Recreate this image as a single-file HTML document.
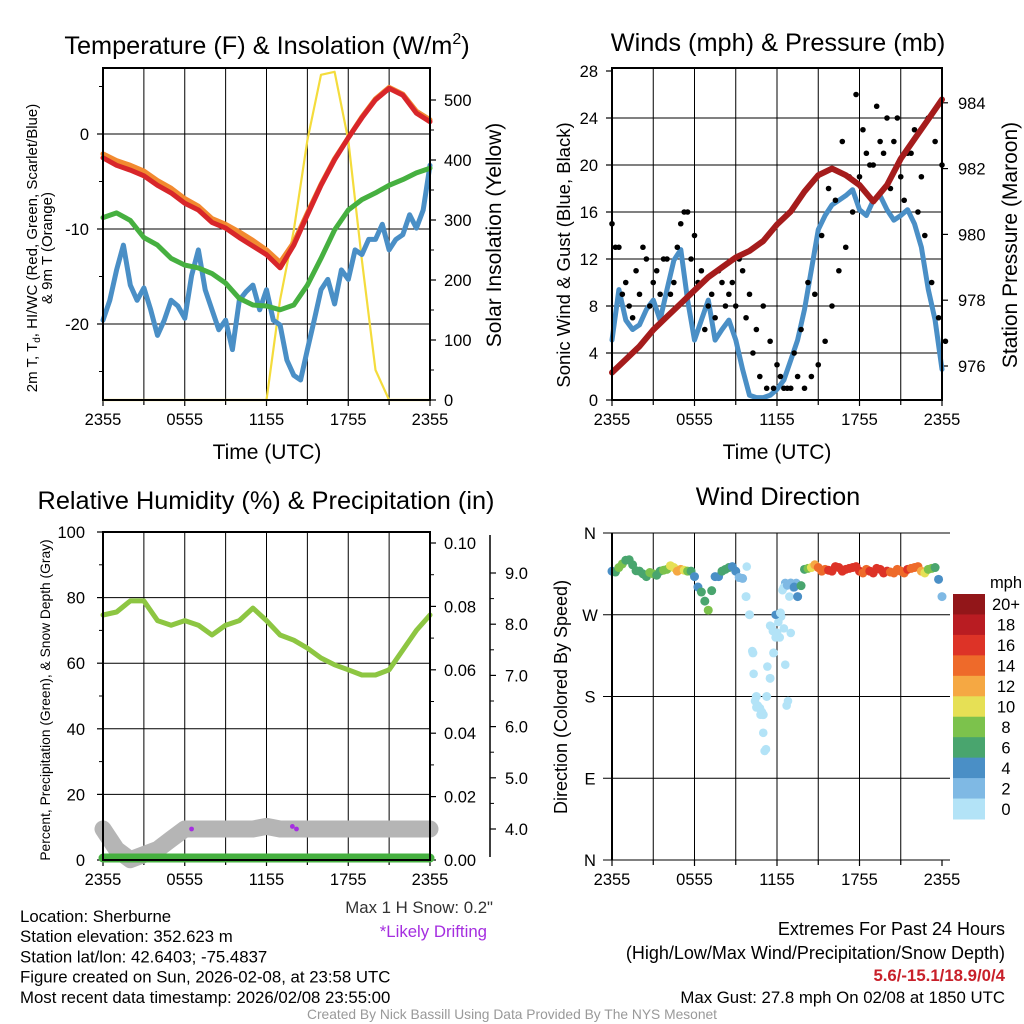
<!DOCTYPE html>
<html><head><meta charset="utf-8"><style>
html,body{margin:0;padding:0;background:#fff;}
svg{display:block;font-family:"Liberation Sans",Arial,sans-serif;}
</style></head><body>
<svg id="fig" width="1024" height="1024" viewBox="0 0 1024 1024">
<rect width="1024" height="1024" fill="#fff"/>
<g id="layer"></g>
</svg>
<script>
// ---------- DATA ----------
const timeLabels = ["2355","0555","1155","1755","2355"];
const tempTicks = [0,-10,-20];
const solarTicks = [0,100,200,300,400,500];
const windTicks = [0,4,8,12,16,20,24,28];
const presTicks = [976,978,980,982,984];
const rhTicks = [0,20,40,60,80,100];
const precipTicks = ["0.00","0.02","0.04","0.06","0.08","0.10"];
const snowTicks = ["4.0","5.0","6.0","7.0","8.0","9.0"];
const dirTicks = ["N","W","S","E","N"];
const speedBins = ["0","2","4","6","8","10","12","14","16","18","20+"];

// hourly temperature (F), t = 0..24
const tempT = [-2.5,-3.3,-3.8,-4.4,-5.4,-6.2,-7.3,-8,-9.3,-9.9,-10.9,-11.8,-12.7,-14.1,-11.7,-8.5,-5.4,-2.7,-0.4,1.7,3.6,4.8,4.1,2.2,1.3];
const temp9m = [-2.1,-2.8,-3.3,-3.9,-4.9,-5.7,-6.8,-7.6,-8.9,-9.5,-10.3,-11.2,-12.2,-13.5,-11.4,-8.3,-5.3,-2.6,-0.4,1.8,3.7,4.9,4.2,2.4,1.5];
const dewT = [-8.8,-8.3,-9.1,-10.9,-11.7,-13.1,-13.8,-14.1,-14.7,-15.7,-17.3,-18,-18.1,-18.5,-18,-15.9,-13.1,-10.1,-8,-6.9,-6.2,-5.4,-4.8,-4.1,-3.6];
// half-hourly wind chill (F)
const windChill = [-19.6,-17.5,-14.3,-11.7,-15.9,-17.5,-16.2,-18.5,-21.2,-19.6,-17.5,-18.1,-19.4,-14.9,-12.2,-16.4,-18.5,-20.6,-19.6,-22.7,-17.5,-16.6,-15.9,-18.5,-16.4,-19.6,-20.1,-23.8,-25.4,-25.9,-22.7,-19.6,-16.4,-15.3,-17.9,-14.3,-15.3,-12.2,-12.7,-11.1,-11.1,-9.5,-12.2,-11.1,-10.6,-8.5,-9.9,-8.0,-3.3];
// solar insolation (W/m2), hourly
const solar = [0,0,0,0,0,0,0,0,0,0,0,0,0,167,283,433,542,547,433,233,50,0,0,0,0];
// half-hourly sonic wind (mph)
const wind = [5.1,9.4,6.8,6,6.4,7.7,8.5,6.8,9.4,11.9,12.8,8.5,5.1,6.8,8.5,5.1,6,6.8,5.1,2.6,0.4,0.2,0.2,0.4,0.9,1.7,3.4,5.1,7.7,11.1,14.5,15.7,16.6,17,17.4,17.9,16.2,15.7,17,17.4,16.2,15.3,15.7,16.2,15,13,9.4,6.8,2.6];
const gust = [15,13,10,7,9,12,10,9,12,10,15,16,14,11,8,7,10,9,8,11,9,6,8,5,3,1,1,2,1,2,3,5,8,11,13,16,19,21,20,22,24,22,19,21,23,19,24,22,20];
const gust2 = [13,9,8,11,13,8,11,12,9,13,16,12,10,6,9,11,8,10,12,7,4,2,1,1,2,1,4,6,10,9,14,18,17,22,19,26,23,20,25,21,18,24,17,21,16,14,10,7,5];
// hourly station pressure (mb)
const pressure = [975.8,976.2,976.6,977.1,977.5,977.9,978.3,978.7,979.0,979.3,979.5,979.8,980.3,980.7,981.3,981.8,982.0,981.8,981.5,981.0,981.5,982.3,982.9,983.5,984.1];
// hourly RH (%)
const rh = [74.7,75.6,79,79,73,71.6,73,71.6,68.6,71.6,73,76.8,73,68.6,67,64.6,61.6,59.5,58,56.4,56.4,58,64,70,74.7];
const precip = [0,0,0,0,0,0,0,0,0,0,0,0,0,0,0,0,0,0,0,0,0,0,0,0,0];
const snow = [4.0,3.6,3.4,3.5,3.6,3.8,4.0,4.0,4.0,4.0,4.0,4.0,4.05,4.0,4.0,4.0,4.0,4.0,4.0,4.0,4.0,4.0,4.0,4.0,4.0];
const driftT = [6.5,13.9,14.2];
const driftSnow = [4.0,4.05,4.0];
// half-hourly wind direction (deg)
const windDir = [318,322,330,325,318,312,315,318,320,322,320,318,312,295,275,312,318,322,318,310,270,180,160,200,250,300,305,290,320,322,322,320,318,322,320,322,318,320,316,320,318,316,318,320,322,318,320,322,290];
const extraDirT = [9.8,10.2,10.3,10.4,10.5,10.6,10.8,10.9,11.0,11.1,11.2,11.3,11.5,11.6,11.7,11.9,12.1,12.3,12.5,12.6,12.7,12.8,12.4,12.6,12.9,13.2,13.4,13.0,12.2,11.9];
const extraDir = [323,230,205,175,168,170,160,163,140,120,122,213,258,257,252,245,262,268,255,215,170,175,297,305,290,300,305,250,245,270];
const extraSpd = [1,0.5,0.5,0.5,0.5,0.5,0.5,0.5,0.5,0.5,0.5,0.5,0.5,1,0.5,0.5,1,0.5,0.5,1,0.5,0.5,1,2.5,1,2,3,1,0.5,4];

// ---------- HELPERS ----------
const NS="http://www.w3.org/2000/svg";
const layer=document.getElementById('layer');
function el(tag,attrs,parent){const e=document.createElementNS(NS,tag);for(const k in attrs)e.setAttribute(k,attrs[k]);(parent||layer).appendChild(e);return e;}
function txt(x,y,s,size,anchor,parent,extra){const e=el('text',Object.assign({x:x,y:y,'font-size':size,'text-anchor':anchor||'middle',fill:'#000'},extra||{}),parent);e.textContent=s;return e;}
const spdColors=["#b3e3f7","#7fb9e4","#4a8fc6","#49a56e","#7cc24c","#e6e055","#f5a843","#ee6a2a","#dd3327","#b91c22","#921619"];
function spdColor(v){let i=Math.floor(v/2);if(i<0)i=0;if(i>10)i=10;return spdColors[i];}
const TICK=16.5, TITLE=25.3, AXT=21;

function panelFrame(g,L,T,R,B){
  for(let i=1;i<8;i++){const x=L+(R-L)*i/8;
    const gl=el('line',{x1:x,y1:T,x2:x,y2:B,stroke:'#000','stroke-width':1},g);
    
    }
  for(let i=0;i<=8;i++){const x=L+(R-L)*i/8;
    el('line',{x1:x,y1:B,x2:x,y2:B+(i%2==0?6:5),stroke:'#000','stroke-width':1.2},g);}
  timeLabels.forEach((s,i)=>{const t=txt(L+(R-L)*i/4,B+25,s,TICK,'middle',g);
    
    });
}
function border(g,L,T,R,B){const r=el('rect',{x:L,y:T,width:R-L,height:B-T,fill:'none',stroke:'#000','stroke-width':2},g);
  
  }
function poly(g,pts,color,w,name){const p=el('polyline',{points:pts.map(p=>p[0].toFixed(1)+','+p[1].toFixed(1)).join(' '),fill:'none',stroke:color,'stroke-width':w,'stroke-linejoin':'round','stroke-linecap':'round'},g);
  
  return p;}

// ---------- PANEL 1: Temperature ----------
(function(){
  const g=el('g',{});
  
  
  const L=103,T=68,R=430,B=400;
  const xS=t=>L+(R-L)*t/24;
  const yT=v=>134-v*9.5;
  const yS=v=>400-v*0.6;
  panelFrame(g,L,T,R,B);
  tempTicks.forEach(v=>{const y=yT(v);
    el('line',{x1:L,y1:y,x2:R,y2:y,stroke:'#000','stroke-width':1},g);
    el('line',{x1:L-6,y1:y,x2:L,y2:y,stroke:'#000','stroke-width':1.2},g);
    const t=txt(L-14,y+6,String(v),TICK,'end',g);
    
    });
  [5,-5,-15,-25].forEach(v=>el('line',{x1:L-4,y1:yT(v),x2:L,y2:yT(v),stroke:'#000','stroke-width':1},g));
  solarTicks.forEach(v=>{const y=yS(v);
    el('line',{x1:R,y1:y,x2:R+6,y2:y,stroke:'#000','stroke-width':1.2},g);
    const t=txt(R+14,y+6,String(v),TICK,'start',g);
    
    });
  [50,150,250,350,450].forEach(v=>el('line',{x1:R,y1:yS(v),x2:R+4,y2:yS(v),stroke:'#000','stroke-width':1},g));
  poly(g,solar.map((v,i)=>[xS(i),yS(v)]),'#f4dc3c',2.2,'solar-insolation-line');
  poly(g,windChill.map((v,i)=>[xS(i*0.5),yT(v)]),'#4a8fc6',5,'wind-chill-line');
  poly(g,dewT.map((v,i)=>[xS(i),yT(v)]),'#46b040',5,'dewpoint-line');
  poly(g,temp9m.map((v,i)=>[xS(i),yT(v)]),'#f28a30',5,'temp-9m-line');
  poly(g,tempT.map((v,i)=>[xS(i),yT(v)]),'#d8262a',5,'temp-2m-line');
  border(g,L,T,R,B);
  const ti=txt(267,54,'',TITLE,'middle',g);ti.innerHTML='Temperature (F) &amp; Insolation (W/m<tspan font-size="16" dy="-10">2</tspan><tspan dy="10">)</tspan>';
  
  
  const xl=txt(267,459,'Time (UTC)',AXT,'middle',g);
  
  
  const yl=el('text',{transform:'translate(37,248) rotate(-90)','font-size':15,'text-anchor':'middle'},g);
  yl.innerHTML='2m T, T<tspan font-size="10" dy="3">d</tspan><tspan dy="-3">, HI/WC (Red, Green, Scarlet/Blue)</tspan>';
  
  
  const yl2=el('text',{transform:'translate(52,248) rotate(-90)','font-size':15,'text-anchor':'middle'},g);yl2.textContent='& 9m T (Orange)';
  
  
  const yr=el('text',{transform:'translate(501,235) rotate(-90)','font-size':AXT,'text-anchor':'middle'},g);yr.textContent='Solar Insolation (Yellow)';
  
  
})();

// ---------- PANEL 2: Winds ----------
(function(){
  const g=el('g',{});
  
  
  const L=612,T=68,R=942,B=400;
  const xS=t=>L+(R-L)*t/24;
  const yW=v=>400-v*11.75;
  const yP=v=>366-(v-976)*32.9;
  panelFrame(g,L,T,R,B);
  windTicks.forEach(v=>{const y=yW(v);
    if(v>0&&v<28)el('line',{x1:L,y1:y,x2:R,y2:y,stroke:'#000','stroke-width':1},g);
    el('line',{x1:L-6,y1:y,x2:L,y2:y,stroke:'#000','stroke-width':1.2},g);
    const t=txt(L-14,y+6,String(v),TICK,'end',g);
    
    });
  presTicks.forEach(v=>{const y=yP(v);
    el('line',{x1:R,y1:y,x2:R+6,y2:y,stroke:'#000','stroke-width':1.2},g);
    const t=txt(R+16,y+6,String(v),TICK,'start',g);
    
    });
  poly(g,wind.map((v,i)=>[xS(i*0.5),yW(v)]),'#4a8fc6',5,'sonic-wind-line');
  gust.forEach((v,i)=>{const c=el('circle',{cx:xS(i*0.5),cy:yW(v),r:2.8,fill:'#000'},g);
    
    });
  gust2.forEach((v,i)=>{const c=el('circle',{cx:xS(i*0.5+0.25),cy:yW(v),r:2.8,fill:'#000'},g);
    
    });
  poly(g,pressure.map((v,i)=>[xS(i),yP(v)]),'#a51c1c',6,'pressure-line');
  border(g,L,T,R,B);
  const ti=txt(778,51,'Winds (mph) & Pressure (mb)',TITLE,'middle',g);
  
  
  const xl=txt(777,459,'Time (UTC)',AXT,'middle',g);
  
  
  const yl=el('text',{transform:'translate(570,255) rotate(-90)','font-size':18.5,'text-anchor':'middle'},g);yl.textContent='Sonic Wind & Gust (Blue, Black)';
  
  
  const yr=el('text',{transform:'translate(1017,245) rotate(-90)','font-size':AXT,'text-anchor':'middle'},g);yr.textContent='Station Pressure (Maroon)';
  
  
})();

// ---------- PANEL 3: RH ----------
(function(){
  const g=el('g',{});
  
  
  const L=103,T=532,R=430,B=860;
  const xS=t=>L+(R-L)*t/24;
  const yR=v=>860-v*3.28;
  const yPr=v=>860-v*3170;
  const ySn=v=>829-(v-4)*51.2;
  panelFrame(g,L,T,R,B);
  rhTicks.forEach(v=>{const y=yR(v);
    if(v>0&&v<100)el('line',{x1:L,y1:y,x2:R,y2:y,stroke:'#000','stroke-width':1},g);
    el('line',{x1:L-6,y1:y,x2:L,y2:y,stroke:'#000','stroke-width':1.2},g);
    const t=txt(L-18,y+6,String(v),TICK,'end',g);
    
    });
  [10,30,50,70,90].forEach(v=>el('line',{x1:L-4,y1:yR(v),x2:L,y2:yR(v),stroke:'#000','stroke-width':1},g));
  precipTicks.forEach(s=>{const y=yPr(parseFloat(s));
    el('line',{x1:R,y1:y,x2:R+6,y2:y,stroke:'#000','stroke-width':1.2},g);
    const t=txt(R+14,y+6,s,TICK,'start',g);
    
    });
  for(let i=1;i<10;i+=2)el('line',{x1:R,y1:yPr(i*0.01),x2:R+4,y2:yPr(i*0.01),stroke:'#000','stroke-width':1},g);
  const sa=el('line',{x1:490,y1:535,x2:490,y2:857,stroke:'#000','stroke-width':1.5},g);
  
  
  snowTicks.forEach(s=>{const y=ySn(parseFloat(s));
    el('line',{x1:490,y1:y,x2:496,y2:y,stroke:'#000','stroke-width':1.2},g);
    const t=txt(505,y+6,s,TICK,'start',g);
    
    });
  for(let v=4.5;v<9;v+=1)el('line',{x1:490,y1:ySn(v),x2:494,y2:ySn(v),stroke:'#000','stroke-width':1},g);
  poly(g,snow.map((v,i)=>[xS(i),Math.min(ySn(v),860)]),'#b5b5b5',17,'snow-depth-line');
  poly(g,rh.map((v,i)=>[xS(i),yR(v)]),'#8dc642',5,'relative-humidity-line');
  poly(g,precip.map((v,i)=>[xS(i),yPr(v)-2]),'#46b040',9,'precipitation-line');
  driftT.forEach((t,i)=>{const c=el('circle',{cx:xS(t),cy:ySn(driftSnow[i]),r:2.4,fill:'#a52ee0'},g);
    
    });
  border(g,L,T,R,B);
  const ti=txt(266,509,'Relative Humidity (%) & Precipitation (in)',TITLE,'middle',g);
  
  
  const yl=el('text',{transform:'translate(50,700) rotate(-90)','font-size':13.8,'text-anchor':'middle'},g);yl.textContent='Percent, Precipitation (Green), & Snow Depth (Gray)';
  
  
})();

// ---------- PANEL 4: Wind direction ----------
(function(){
  const g=el('g',{});
  
  
  const L=612,T=533,R=942,B=860;
  const xS=t=>L+(R-L)*t/24;
  const yD=d=>860-d*(327/360);
  panelFrame(g,L,T,R,B);
  dirTicks.forEach((s,i)=>{const y=yD(360-i*90);
    el('line',{x1:L-9,y1:y,x2:R+8,y2:y,stroke:'#000','stroke-width':1},g);
    const t=txt(L-22,y+6,s,TICK,'middle',g);
    
    });
  extraDirT.forEach((t,i)=>{const c=el('circle',{cx:xS(t),cy:yD(extraDir[i]),r:4.3,fill:spdColor(extraSpd[i])},g);
    
    });
  windDir.forEach((d,i)=>{const c=el('circle',{cx:xS(i*0.5),cy:yD(d),r:4.5,fill:spdColor(wind[i])},g);
    
    
    if(i<48){const c2=el('circle',{cx:xS(i*0.5+0.25),cy:yD((d+windDir[i+1])/2+((i%3)-1)*3),r:4.5,fill:spdColor((wind[i]+wind[i+1])/2)},g);
      
      }});
  el('line',{x1:L,y1:T,x2:L,y2:B,stroke:'#000','stroke-width':2},g);
  const ti=txt(778,505,'Wind Direction',TITLE,'middle',g);
  
  
  const yl=el('text',{transform:'translate(567,697) rotate(-90)','font-size':18,'text-anchor':'middle'},g);yl.textContent='Direction (Colored By Speed)';
  
  
  const cb=el('g',{},g);
  
  
  const bt=594,bh=(819-594)/11;
  speedBins.forEach((s,i)=>{const j=10-i;
    const r=el('rect',{x:953,y:bt+i*bh,width:32,height:bh+0.5,fill:spdColors[j]},cb);
    
    
    const t=txt(1006,bt+i*bh+bh/2+6,speedBins[j],16.5,'middle',cb);
    
    });
  const u=txt(1006,588,'mph',16.5,'middle',cb);
  
  
})();

// ---------- Footer text ----------
(function(){
  const g=el('g',{});
  
  
  const lines=['Location: Sherburne','Station elevation: 352.623 m','Station lat/lon: 42.6403; -75.4837','Figure created on Sun, 2026-02-08, at 23:58 UTC','Most recent data timestamp: 2026/02/08 23:55:00'];
  lines.forEach((s,i)=>{const t=txt(20,922+i*20.2,s,16.8,'start',g);
    
    });
  const a=txt(493,913,'Max 1 H Snow: 0.2"',16.8,'end',g,{fill:'#333'});
  
  
  const b=txt(487,937,'*Likely Drifting',16.8,'end',g,{fill:'#a52ee0'});
  
  
  const r1=txt(1005,935,'Extremes For Past 24 Hours',18,'end',g);
  
  
  const r2=txt(1005,959,'(High/Low/Max Wind/Precipitation/Snow Depth)',18,'end',g);
  
  
  const r3=txt(1005,981,'5.6/-15.1/18.9/0/4',16.8,'end',g,{fill:'#c8202a','font-weight':'bold'});
  
  
  const r4=txt(1005,1003,'Max Gust: 27.8 mph On 02/08 at 1850 UTC',16.8,'end',g);
  
  
  const c=txt(512,1019,'Created By Nick Bassill Using Data Provided By The NYS Mesonet',13.8,'middle',g,{fill:'#999'});
  
  
})();
</script>
</body></html>
